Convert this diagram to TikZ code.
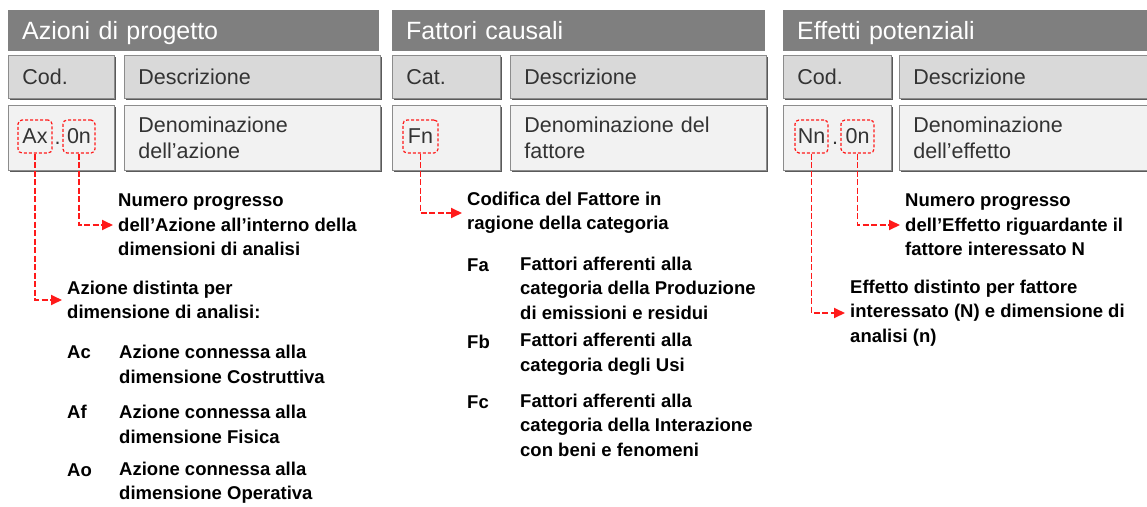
\documentclass[tikz,border=0pt]{standalone}
\usepackage{fontspec}
\setmainfont{Liberation Sans}
\usetikzlibrary{arrows.meta}
\definecolor{hdrgray}{HTML}{7F7F7F}
\definecolor{boxA}{HTML}{D9D9D9}
\definecolor{boxB}{HTML}{F2F2F2}
\definecolor{edgegray}{HTML}{8C8C8C}
\definecolor{shadegray}{HTML}{5A5A5A}
\definecolor{boxtext}{HTML}{333333}
\definecolor{codered}{HTML}{FF1A1A}
\begin{document}
\begin{tikzpicture}[x=1pt,y=-1pt,
 hdr/.style={fill=hdrgray,text=white,anchor=north west,inner xsep=14pt,inner ysep=0pt,minimum height=41pt,text height=20pt,text depth=3pt,align=left,font=\fontsize{25}{30}\selectfont},
 cell/.style={anchor=north west,inner xsep=14pt,inner ysep=0pt,align=left,text=boxtext,draw=edgegray,line width=0.9pt,font=\fontsize{21.5}{26}\selectfont,preaction={fill=shadegray,transform canvas={xshift=2pt,yshift=-2pt}}},
 headcell/.style={cell,fill=boxA,minimum height=43pt},
 bodycell/.style={cell,fill=boxB,minimum height=65pt},
 codebox/.style={draw=codered,dash pattern=on 3pt off 2pt,line width=1.2pt,rounded corners=4pt,inner sep=0pt,minimum height=33pt,text=boxtext,font=\fontsize{21.5}{26}\selectfont},
 dotsep/.style={anchor=base,inner sep=0pt,text=boxtext,font=\fontsize{21.5}{26}\selectfont},
 note/.style={anchor=west,inner xsep=5pt,inner ysep=0pt,align=left,font=\bfseries\fontsize{18.5}{24.5}\selectfont},
 link/.style={draw=codered,line width=1.8pt,dash pattern=on 6pt off 2.5pt,-{Triangle[length=11pt,width=10pt]}}
]
\useasboundingbox (0,0) rectangle (1147,506);

% ---- Column 1: Azioni di progetto
\node[hdr,text width=343pt] (h1) at (8,10) {Azioni di progetto};
\node[headcell,text width=78pt] (c1) at (8,55) {Cod.};
\node[headcell,text width=228pt] (d1) at (124,55) {Descrizione};
\node[bodycell,text width=78pt] (r1) at (8,105) {};
\node[bodycell,text width=228pt] (e1) at (124,105) {Denominazione\\dell’azione};
\node[codebox,minimum width=34pt] (ax) at (35,136.5) {Ax};
\node[dotsep] (dot1) at (57.5,144) {.};
\node[codebox,minimum width=32pt] (on1) at (79,136.5) {0n};

\node[note] (n1a) at (113,225) {Numero progresso\\dell’Azione all’interno della\\dimensioni di analisi};
\node[note] (n1b) at (62,300) {Azione distinta per\\dimensione di analisi:};
\node[note] (ac) at (62,352) {Ac};
\node[note] (acd) at (114,364.5) {Azione connessa alla\\dimensione Costruttiva};
\node[note] (af) at (62,412) {Af};
\node[note] (afd) at (114,424.5) {Azione connessa alla\\dimensione Fisica};
\node[note] (ao) at (62,470) {Ao};
\node[note] (aod) at (114,482.5) {Azione connessa alla\\dimensione Operativa};

\draw[link] (on1.south) |- (n1a.west);
\draw[link] (ax.south) |- (n1b.west);

% ---- Column 2: Fattori causali
\node[hdr,text width=345pt] (h2) at (392,10) {Fattori causali};
\node[headcell,text width=80pt] (c2) at (392,55) {Cat.};
\node[headcell,text width=228pt] (d2) at (510,55) {Descrizione};
\node[bodycell,text width=80pt] (r2) at (392,105) {};
\node[bodycell,text width=228pt] (e2) at (510,105) {Denominazione del\\fattore};
\node[codebox,minimum width=35pt] (fn) at (420.5,136.5) {Fn};

\node[note] (n2a) at (462,213) {Codifica del Fattore in\\ragione della categoria};
\node[note] (fa) at (462,265) {Fa};
\node[note] (fad) at (515,288) {Fattori afferenti alla\\categoria della Produzione\\di emissioni e residui};
\node[note] (fb) at (462,342) {Fb};
\node[note] (fbd) at (515,354.5) {Fattori afferenti alla\\categoria degli Usi};
\node[note] (fc) at (462,402) {Fc};
\node[note] (fcd) at (515,425) {Fattori afferenti alla\\categoria della Interazione\\con beni e fenomeni};

\draw[link] (fn.south) |- (n2a.west);

% ---- Column 3: Effetti potenziali
\node[hdr,text width=349pt] (h3) at (783,10) {Effetti potenziali};
\node[headcell,text width=80pt] (c3) at (783,55) {Cod.};
\node[headcell,text width=228pt] (d3) at (899,55) {Descrizione};
\node[bodycell,text width=80pt] (r3) at (783,105) {};
\node[bodycell,text width=228pt] (e3) at (899,105) {Denominazione\\dell’effetto};
\node[codebox,minimum width=33pt] (nn) at (811.5,136.5) {Nn};
\node[dotsep] (dot3) at (835,144) {.};
\node[codebox,minimum width=33pt] (on3) at (857.5,136.5) {0n};

\node[note] (n3a) at (900,225) {Numero progresso\\dell’Effetto riguardante il\\fattore interessato N};
\node[note] (n3b) at (845,313) {Effetto distinto per fattore\\interessato (N) e dimensione di\\analisi (n)};

\draw[link] (on3.south) |- (n3a.west);
\draw[link] (nn.south) |- (n3b.west);
\end{tikzpicture}
\end{document}
